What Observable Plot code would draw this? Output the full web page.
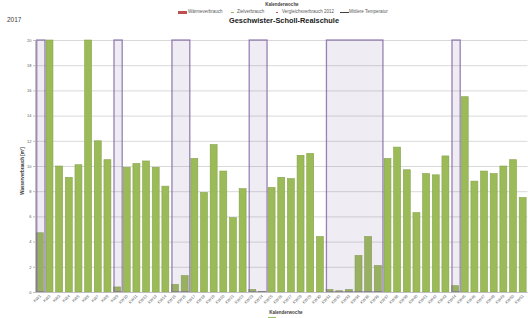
<!DOCTYPE html>
<html><head><meta charset="utf-8">
<script src="https://cdn.jsdelivr.net/npm/d3@7"></script>
<script src="https://cdn.jsdelivr.net/npm/@observablehq/plot@0.6"></script>
<style>
html,body{margin:0;padding:0;background:#fff;overflow:hidden;width:528px;height:318px}
#wrap{position:relative;width:528px;height:318px;font-family:"Liberation Sans",Arial,sans-serif}
#wrap svg{position:absolute;left:0;top:0}
.t{position:absolute;white-space:nowrap;color:#404040;line-height:1}
.c{transform:translate(-50%,-50%)}
</style></head><body><div id="wrap"></div>
<script>
const weeks = [1,2,3,4,5,6,7,8,9,10,11,12,13,14,15,16,17,18,19,20,21,22,23,24,25,26,27,28,29,30,31,32,33,34,35,36,37,38,39,40,41,42,43,44,45,46,47,48,49,50,51];
const water = [4.7,20,10.0,9.1,10.1,20,12.0,10.5,0.4,9.9,10.2,10.4,9.9,8.4,0.6,1.3,10.6,7.9,11.7,9.6,5.9,8.2,0.2,0.05,8.3,9.1,9.0,10.85,11.0,4.4,0.2,0.1,0.2,2.9,4.4,2.1,10.6,11.5,9.7,6.3,9.4,9.3,10.8,0.5,15.5,8.8,9.6,9.4,10.0,10.5,7.5];
const holidayStart = [1,9,15,23,31,44];
const holidayEnd = [1,9,16,24,36,44];
const yTicks = [0,2,4,6,8,10,12,14,16,18,20];
const title = "Geschwister-Scholl-Realschule";
const year = "2017";
const legendItems = ["Wärmeverbrauch","Zielverbrauch","Vergleichsverbrauch 2012","Mittlere Temperatur"];

const rows = weeks.map((w,i)=>({week:w, value:water[i]}));
const holidays = holidayStart.map((s,i)=>({start:s, end:holidayEnd[i]}));

const chart = Plot.plot({
  width: 528, height: 318,
  marginTop: 40, marginBottom: 26, marginLeft: 35, marginRight: 0.5,
  style: {background: "transparent", fontFamily: "Liberation Sans, Arial, sans-serif"},
  x: {type: "linear", domain: [0.5, 51.5], axis: null},
  y: {domain: [0, 20], axis: null},
  marks: [
    Plot.gridY(yTicks, {stroke: "#d9d9d9", strokeOpacity: 1, strokeWidth: 1}),
    Plot.rect(rows, {x1: d => d.week - 0.36, x2: d => d.week + 0.36, y1: d => 0, y2: "value",
      fill: "#9BBB59", stroke: "#86A34B", strokeWidth: 0.6}),
    Plot.rect(holidays, {x1: d => d.start - 0.32, x2: d => d.end + 0.53, y1: d => 0, y2: d => 20,
      fill: "#8064A2", fillOpacity: 0.12, stroke: "#8064A2", strokeOpacity: 0.8, strokeWidth: 1.3}),
    Plot.ruleY([0], {stroke: "#bfbfbf"}),
    Plot.ruleX([0.5], {stroke: "#bfbfbf"}),
    Plot.axisY(yTicks, {tickSize: 2, tickPadding: 2, fontSize: 4, label: null, stroke: "#bfbfbf", fill: "#595959"}),
    Plot.axisX(weeks, {tickFormat: d => "KW" + d, tickRotate: -45, tickSize: 0, tickPadding: 3, fontSize: 4, label: null, fill: "#595959"})
  ]
});
const wrap = document.getElementById("wrap");
wrap.appendChild(chart);

function addText(txt, x, y, css) {
  const d = document.createElement("div");
  d.className = "t";
  d.textContent = txt;
  d.style.left = x + "px"; d.style.top = y + "px";
  Object.assign(d.style, css || {});
  wrap.appendChild(d);
  return d;
}
function addBox(x, y, w, h, color) {
  const d = document.createElement("div");
  Object.assign(d.style, {position:"absolute", left:x+"px", top:y+"px", width:w+"px", height:h+"px", background:color});
  wrap.appendChild(d);
}
const k1 = addText("Kalenderwoche", 282, 4.5, {fontSize:"4.5px", fontWeight:"bold"}); k1.classList.add("c");
addBox(178, 10.5, 9, 3, "#C0504D");
addText(legendItems[0], 188, 9.7, {fontSize:"4.5px", color:"#595959"});
addBox(231, 11.7, 3, 0.8, "#9BBB59");
addText(legendItems[1], 237, 9.7, {fontSize:"4.5px", color:"#595959"});
addBox(276, 11.5, 2, 1, "#C0504D");
addText(legendItems[2], 282, 9.7, {fontSize:"4.5px", color:"#595959"});
addBox(340, 11.6, 9, 0.8, "#404040");
addText(legendItems[3], 349, 9.7, {fontSize:"4.5px", color:"#595959"});
addText(year, 7, 17, {fontSize:"6.5px", color:"#404040"});
const tt = addText(title, 284, 21, {fontSize:"7.4px", fontWeight:"bold", color:"#202020"}); tt.classList.add("c");
const yl = addText("Wasserverbrauch [m³]", 23, 171, {fontSize:"4.5px", fontWeight:"bold", color:"#404040"});
yl.style.transform = "translate(-50%,-50%) rotate(-90deg)";
const k2 = addText("Kalenderwoche", 286, 313, {fontSize:"4.5px", fontWeight:"bold"}); k2.classList.add("c");
addBox(268, 316.5, 8, 2, "#9BBB59");
</script></body></html>
